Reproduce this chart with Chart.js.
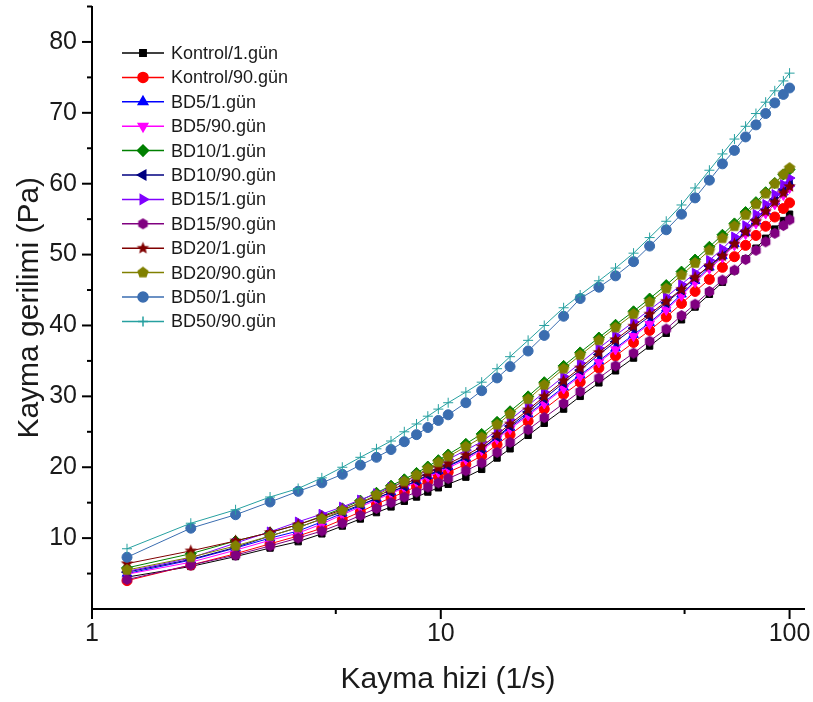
<!DOCTYPE html>
<html>
<head>
<meta charset="utf-8">
<script src="https://cdn.jsdelivr.net/npm/chart.js@4.4.1/dist/chart.umd.min.js"></script>
<style>
  html, body { margin: 0; padding: 0; background: #fff; }
</style>
</head>
<body>
<canvas id="chart" width="813" height="702"></canvas>
<script>
// shear rate (1/s)
const shearRate = [1.26, 1.92, 2.58, 3.24, 3.9, 4.56, 5.22, 5.88, 6.54, 7.2,
  7.86, 8.52, 9.18, 9.84, 10.5, 11.8, 13.1, 14.5, 15.8, 17.8,
  19.8, 22.5, 25.1, 28.4, 31.7, 35.7, 39.7, 44.3, 49.0, 53.6,
  58.9, 64.2, 69.5, 74.8, 80.1, 85.4, 90.7, 96.0, 100];

// shear stress (Pa)
const kontrol1 = [4.5, 6.0, 7.4, 8.6, 9.5, 10.6, 11.7, 12.7, 13.6, 14.4,
  15.2, 15.8, 16.5, 17.1, 17.6, 18.6, 19.7, 21.3, 22.6, 24.5,
  26.2, 28.2, 30.0, 31.9, 33.6, 35.4, 37.1, 38.9, 40.8, 42.6,
  44.4, 46.1, 47.7, 49.4, 50.9, 52.3, 53.6, 54.8, 55.7];
const kontrol90 = [4.0, 6.2, 7.8, 9.2, 10.3, 11.4, 12.6, 13.7, 14.8, 15.7,
  16.5, 17.3, 18.0, 18.7, 19.3, 20.4, 21.6, 23.2, 24.6, 26.5,
  28.2, 30.3, 32.0, 34.0, 35.7, 37.6, 39.3, 41.2, 43.1, 44.8,
  46.5, 48.2, 49.7, 51.3, 52.7, 54.0, 55.3, 56.5, 57.3];
const bd5_1 = [5.0, 6.9, 8.6, 10.0, 11.0, 12.3, 13.5, 14.6, 15.6, 16.5,
  17.3, 18.1, 18.8, 19.5, 20.1, 21.3, 22.6, 24.2, 25.6, 27.5,
  29.2, 31.3, 33.0, 35.0, 36.8, 38.7, 40.4, 42.4, 44.4, 46.3,
  48.2, 49.8, 51.5, 53.1, 54.7, 56.1, 57.5, 58.8, 60.0];
const bd5_90 = [4.9, 6.6, 8.3, 9.7, 10.7, 12.0, 13.3, 14.4, 15.4, 16.3,
  17.1, 17.9, 18.6, 19.3, 19.9, 21.1, 22.4, 24.0, 25.4, 27.3,
  29.0, 31.1, 32.8, 34.8, 36.6, 38.5, 40.2, 42.2, 44.2, 46.1,
  48.0, 49.6, 51.3, 52.9, 54.4, 55.8, 57.1, 58.4, 59.4];
const bd10_1 = [5.8, 7.8, 9.6, 10.8, 11.9, 13.1, 14.2, 15.3, 16.4, 17.4,
  18.3, 19.2, 20.1, 21.0, 21.8, 23.3, 24.7, 26.4, 27.9, 30.0,
  32.0, 34.3, 36.2, 38.3, 40.1, 42.0, 43.8, 45.7, 47.6, 49.3,
  51.1, 52.8, 54.4, 56.0, 57.4, 58.8, 60.1, 61.3, 62.0];
const bd10_90 = [5.2, 7.0, 8.7, 10.3, 11.5, 12.7, 13.7, 14.7, 15.6, 16.5,
  17.3, 18.1, 18.9, 19.6, 20.2, 21.4, 22.6, 24.3, 25.8, 27.8,
  29.7, 31.9, 33.7, 35.9, 37.7, 39.6, 41.3, 43.2, 45.0, 46.7,
  48.4, 50.0, 51.7, 53.3, 54.9, 56.4, 57.8, 59.2, 60.1];
const bd15_1 = [5.3, 7.2, 9.3, 10.9, 12.3, 13.4, 14.4, 15.4, 16.3, 17.2,
  18.0, 18.8, 19.6, 20.4, 21.1, 22.4, 23.6, 25.2, 26.7, 28.7,
  30.6, 32.8, 34.7, 36.8, 38.6, 40.5, 42.2, 44.0, 45.8, 47.4,
  49.2, 50.8, 52.5, 54.1, 55.7, 57.1, 58.5, 59.9, 60.8];
const bd15_90 = [4.15, 6.2, 7.6, 8.9, 10.0, 11.0, 12.1, 13.2, 14.2, 15.0,
  15.8, 16.5, 17.2, 17.8, 18.4, 19.5, 20.6, 22.1, 23.5, 25.3,
  27.0, 29.0, 30.7, 32.6, 34.3, 36.1, 37.8, 39.5, 41.4, 43.0,
  44.8, 46.4, 47.8, 49.3, 50.6, 51.8, 53.0, 54.1, 54.9];
const bd20_1 = [6.4, 8.2, 9.6, 10.8, 11.9, 13.0, 14.0, 15.0, 15.9, 16.8,
  17.6, 18.4, 19.2, 19.9, 20.5, 21.7, 22.9, 24.6, 26.1, 28.1,
  30.0, 32.2, 34.0, 36.2, 38.0, 39.9, 41.6, 43.4, 45.1, 46.8,
  48.4, 49.8, 51.5, 53.2, 54.7, 56.1, 57.4, 58.7, 59.6];
const bd20_90 = [5.5, 7.3, 8.9, 10.3, 11.5, 12.7, 13.9, 15.0, 16.1, 17.1,
  18.0, 18.9, 19.8, 20.7, 21.5, 22.9, 24.2, 26.0, 27.5, 29.6,
  31.6, 33.9, 35.8, 37.9, 39.7, 41.6, 43.3, 45.2, 47.1, 48.8,
  50.6, 52.3, 54.0, 55.6, 57.1, 58.6, 60.0, 61.3, 62.2];
const bd50_1 = [7.3, 11.4, 13.3, 15.1, 16.6, 17.8, 19.0, 20.3, 21.4, 22.5,
  23.6, 24.6, 25.6, 26.6, 27.4, 29.1, 30.8, 32.6, 34.2, 36.4,
  38.6, 41.3, 43.8, 45.4, 47.0, 49.0, 51.2, 53.5, 55.7, 58.0,
  60.5, 62.8, 64.7, 66.6, 68.3, 69.9, 71.4, 72.6, 73.5];
const bd50_90 = [8.5, 12.1, 14.0, 15.8, 17.0, 18.5, 20.0, 21.4, 22.6, 23.7,
  25.0, 26.1, 27.2, 28.2, 29.1, 30.6, 32.0, 33.9, 35.6, 37.9,
  40.0, 42.5, 44.3, 46.3, 48.1, 50.2, 52.4, 54.7, 57.0, 59.4,
  61.9, 64.2, 66.3, 68.1, 69.9, 71.5, 73.1, 74.5, 75.6];

const seriesNames = ['Kontrol/1.gün', 'Kontrol/90.gün', 'BD5/1.gün', 'BD5/90.gün',
  'BD10/1.gün', 'BD10/90.gün', 'BD15/1.gün', 'BD15/90.gün',
  'BD20/1.gün', 'BD20/90.gün', 'BD50/1.gün', 'BD50/90.gün'];
const seriesValues = [kontrol1, kontrol90, bd5_1, bd5_90, bd10_1, bd10_90,
  bd15_1, bd15_90, bd20_1, bd20_90, bd50_1, bd50_90];

const xTickLabels = [1, 10, 100];
const xMinorTicks = [5, 50];
const yTickLabels = [10, 20, 30, 40, 50, 60, 70, 80];
const yMinorTicks = [5, 15, 25, 35, 45, 55, 65, 75, 85];

const FONT = '"Liberation Sans", Arial, sans-serif';

// filled marker shapes drawn on small canvases
function polyMarker(color, sides, star, r) {
  const c = document.createElement('canvas');
  const s = Math.ceil(r * 2 + 2);
  c.width = s; c.height = s;
  const g = c.getContext('2d');
  g.fillStyle = color;
  g.beginPath();
  const n = star ? sides * 2 : sides;
  for (let i = 0; i < n; i++) {
    const a = -Math.PI / 2 + i * 2 * Math.PI / n;
    const rr = star && i % 2 ? r * 0.45 : r;
    const px = s / 2 + rr * Math.cos(a), py = s / 2 + rr * Math.sin(a);
    i ? g.lineTo(px, py) : g.moveTo(px, py);
  }
  g.closePath();
  g.fill();
  return c;
}

const styles = [
  { color: '#000000', pointStyle: 'rect', rotation: 0, radius: 4.5 },
  { color: '#ff0000', pointStyle: 'circle', rotation: 0, radius: 5 },
  { color: '#0000ff', pointStyle: 'triangle', rotation: 0, radius: 5.5 },
  { color: '#ff00ff', pointStyle: 'triangle', rotation: 180, radius: 5.5 },
  { color: '#008000', pointStyle: 'rectRot', rotation: 0, radius: 5.5 },
  { color: '#000080', pointStyle: 'triangle', rotation: 270, radius: 5.5 },
  { color: '#8000ff', pointStyle: 'triangle', rotation: 90, radius: 5.5 },
  { color: '#800080', pointStyle: polyMarker('#800080', 6, false, 5.5), rotation: 0, radius: 5 },
  { color: '#800000', pointStyle: polyMarker('#800000', 5, true, 6.5), rotation: 0, radius: 5 },
  { color: '#808000', pointStyle: polyMarker('#808000', 5, false, 6), rotation: 0, radius: 5 },
  { color: '#3a6db0', pointStyle: 'circle', rotation: 0, radius: 5 },
  { color: '#26a0a0', pointStyle: 'cross', rotation: 0, radius: 5 }
];

const datasets = seriesValues.map((vals, i) => ({
  label: seriesNames[i],
  data: vals.map((v, k) => ({ x: shearRate[k], y: v })),
  borderColor: styles[i].color,
  backgroundColor: styles[i].color,
  pointBackgroundColor: styles[i].color,
  pointBorderColor: styles[i].color,
  pointStyle: styles[i].pointStyle,
  pointRotation: styles[i].rotation,
  pointRadius: styles[i].radius,
  pointBorderWidth: 1,
  borderWidth: 1,
  tension: 0,
  order: seriesValues.length - i
}));

const extras = {
  id: 'extras',
  afterDraw(chart) {
    const { ctx, scales: { x, y } } = chart;
    ctx.save();
    ctx.strokeStyle = '#000';
    ctx.lineWidth = 2;
    const ax = x.left, ay = y.bottom;
    const tick = (x1, y1, x2, y2) => { ctx.beginPath(); ctx.moveTo(x1, y1); ctx.lineTo(x2, y2); ctx.stroke(); };
    yTickLabels.forEach(v => { const p = y.getPixelForValue(v); tick(ax, p, ax - 10, p); });
    yMinorTicks.forEach(v => { const p = y.getPixelForValue(v); tick(ax, p, ax - 5, p); });
    xTickLabels.forEach(v => { const p = x.getPixelForValue(v); tick(p, ay, p, ay + 10); });
    xMinorTicks.forEach(v => { const p = x.getPixelForValue(v); tick(p, ay, p, ay + 5); });

    // legend inside the plot
    ctx.font = '18px ' + FONT;
    ctx.textBaseline = 'middle';
    ctx.textAlign = 'left';
    seriesNames.forEach((name, i) => {
      const ly = 53 + i * 24.4;
      const st = styles[i];
      ctx.strokeStyle = st.color;
      ctx.lineWidth = 1.5;
      tick(122, ly, 164, ly);
      ctx.fillStyle = st.color;
      Chart.helpers.drawPoint(ctx, {
        pointStyle: st.pointStyle, rotation: st.rotation, radius: st.radius, borderWidth: 1
      }, 143, ly);
      ctx.fillStyle = '#1a1a1a';
      ctx.fillText(name, 171, ly + 1);
    });
    ctx.restore();
  }
};

new Chart(document.getElementById('chart'), {
  type: 'line',
  data: { datasets },
  options: {
    responsive: false,
    animation: false,
    layout: { padding: { top: 5, right: 9, left: 0, bottom: 0 } },
    plugins: { legend: { display: false }, tooltip: { enabled: false } },
    scales: {
      x: {
        type: 'logarithmic',
        min: 1,
        max: 110,
        grid: { display: false, drawTicks: false, tickLength: 0 },
        border: { display: true, color: '#000', width: 2 },
        afterBuildTicks: s => { s.ticks = xTickLabels.map(v => ({ value: v })); },
        afterFit: s => { s.height = 93; s.paddingLeft = 0; s.paddingRight = 0; },
        ticks: {
          color: '#1a1a1a',
          font: { family: FONT, size: 25 },
          padding: 10,
          maxRotation: 0,
          autoSkip: false,
          callback: v => String(v)
        },
        title: {
          display: true,
          text: 'Kayma hizi (1/s)',
          color: '#1a1a1a',
          font: { family: FONT, size: 30 },
          padding: { top: 0, bottom: 4 }
        }
      },
      y: {
        min: 0,
        max: 85,
        grid: { display: false, drawTicks: false, tickLength: 0 },
        border: { display: true, color: '#000', width: 2 },
        afterBuildTicks: s => { s.ticks = yTickLabels.map(v => ({ value: v })); },
        afterFit: s => { s.width = 92; s.paddingTop = 0; s.paddingBottom = 0; },
        ticks: {
          color: '#1a1a1a',
          font: { family: FONT, size: 25 },
          padding: 15,
          callback: v => String(v)
        },
        title: {
          display: true,
          text: 'Kayma gerilimi (Pa)',
          color: '#1a1a1a',
          font: { family: FONT, size: 30 },
          padding: { top: 12, bottom: 0 }
        }
      }
    }
  },
  plugins: [extras]
});
</script>
</body>
</html>
